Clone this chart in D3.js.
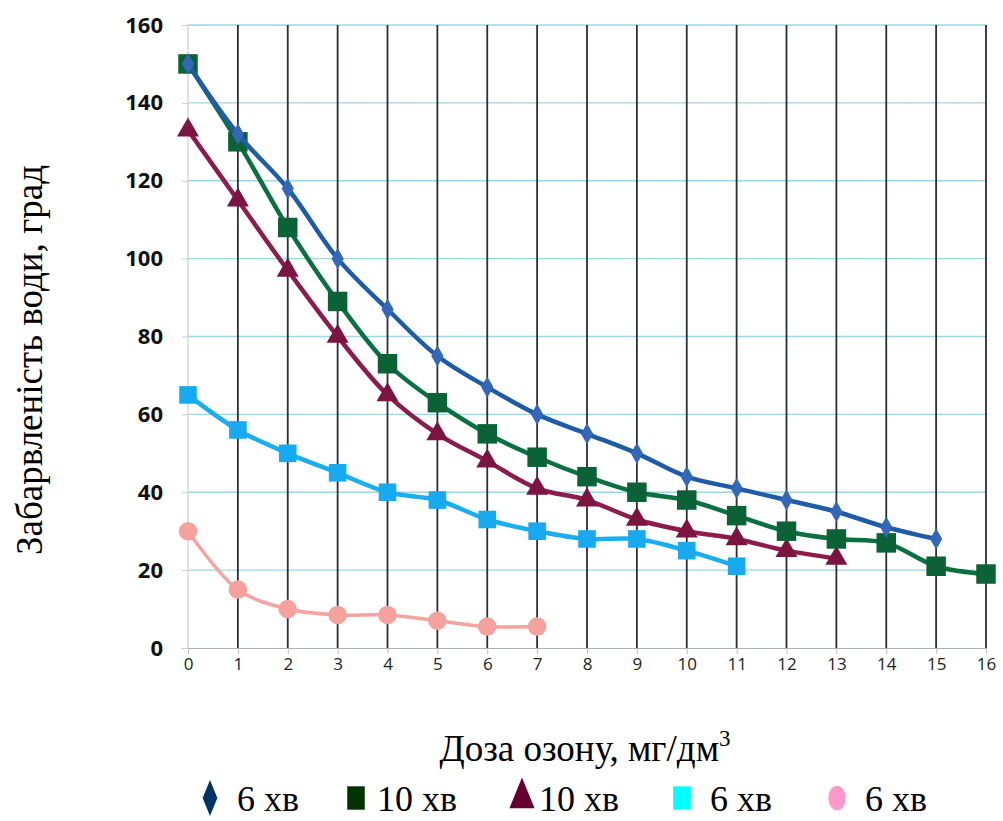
<!DOCTYPE html>
<meta charset="utf-8">
<script src="https://d3js.org/d3.v7.min.js"></script>
<style>
  body { margin: 0; background: #fff; }
</style>
<div id="chart"></div>
<script>

// data
const doses = [0, 1, 2, 3, 4, 5, 6, 7, 8, 9, 10, 11, 12, 13, 14, 15, 16];
const blue6 = [150, 132, 118, 100, 87, 75, 67, 60, 55, 50, 44, 41, 38, 35, 31, 28];
const green10 = [150, 130, 108, 89, 73, 63, 55, 49, 44, 40, 38, 34, 30, 28, 27, 21, 19];
const maroon10 = [133, 115, 97, 80, 65, 55, 48, 41, 38, 33, 30, 28, 25, 23];
const cyan6 = [65, 56, 50, 45, 40, 38, 33, 30, 28, 28, 25, 21];
const pink6 = [30, 15, 10, 8.5, 8.5, 7, 5.5, 5.5];
const yTicks = [0, 20, 40, 60, 80, 100, 120, 140, 160];
const legendLabels = ["6 хв", "10 хв", "10 хв", "6 хв", "6 хв"];

const width = 1003, height = 821;
const margin = { top: 25, right: 17, bottom: 173, left: 188 };

const svg = d3.select("#chart").append("svg")
    .attr("width", width)
    .attr("height", height);

const x = d3.scaleLinear().domain([0, 16]).range([margin.left, width - margin.right]);
const y = d3.scaleLinear().domain([0, 160]).range([height - margin.bottom, margin.top]);

// horizontal grid (light cyan)
svg.append("g")
    .selectAll("line")
    .data(yTicks.filter(d => d > 0))
    .join("line")
    .attr("x1", x(0)).attr("x2", x(16))
    .attr("y1", d => y(d)).attr("y2", d => y(d))
    .attr("stroke", "#9fd6e6")
    .attr("stroke-width", 1.3);

// vertical grid (dark)
svg.append("g")
    .selectAll("line")
    .data(doses.filter(d => d > 0))
    .join("line")
    .attr("x1", d => x(d)).attr("x2", d => x(d))
    .attr("y1", y(160)).attr("y2", y(0))
    .attr("stroke", "#2a2d3a")
    .attr("stroke-width", 1.8);

// y axis line
svg.append("line")
    .attr("x1", x(0)).attr("x2", x(0))
    .attr("y1", y(160)).attr("y2", y(0))
    .attr("stroke", "#c8cdd4").attr("stroke-width", 1.2);

// x axis
const xAxis = svg.append("g")
    .attr("transform", `translate(0, ${y(0)})`)
    .call(d3.axisBottom(x).tickValues(doses).tickSize(6).tickPadding(4).tickSizeOuter(0));
xAxis.select(".domain").attr("stroke", "#a9b0ba").attr("stroke-width", 1.2);
xAxis.selectAll(".tick line").attr("stroke", "#b5bcc6");
xAxis.selectAll("text")
    .attr("font-family", "Open Sans, Liberation Sans, sans-serif")
    .attr("font-size", 17)
    .attr("fill", "#222");

// y axis labels
const yAxis = svg.append("g")
    .attr("transform", `translate(${x(0)}, 0)`)
    .call(d3.axisLeft(y).tickValues(yTicks).tickSize(6).tickPadding(19));
yAxis.select(".domain").remove();
yAxis.selectAll(".tick line").attr("stroke", "#c8cdd4");
yAxis.selectAll("text")
    .attr("font-family", "Open Sans, Liberation Sans, sans-serif")
    .attr("font-weight", "bold")
    .attr("font-size", 22)
    .attr("fill", "#111");

const line = d3.line()
    .x(d => x(d[0]))
    .y(d => y(d[1]))
    .curve(d3.curveCatmullRom.alpha(0.5));

const series = [
    { values: blue6, line: "#1f5ca8", fill: "#3467b8", shape: d3.symbolDiamond, size: 130, legend: "#003366", sw: 4.5 },
    { values: green10, line: "#0a7040", fill: "#0b6236", shape: d3.symbolSquare, size: 380, legend: "#003300", sw: 4.5 },
    { values: maroon10, line: "#8c1c4c", fill: "#7c1442", shape: d3.symbolTriangle, size: 210, legend: "#660033", sw: 4.5 },
    { values: cyan6, line: "#1aaef0", fill: "#18aaf0", shape: d3.symbolSquare, size: 310, legend: "#00ffff", sw: 4.5 },
    { values: pink6, line: "#f4a3a0", fill: "#f5a19d", shape: d3.symbolCircle, size: 270, legend: "#ff99cc", sw: 3.5 }
];

// draw lines first, then markers (back to front)
series.slice().reverse().forEach(s => {
    const pts = s.values.map((v, i) => [doses[i], v]);
    svg.append("path")
        .datum(pts)
        .attr("fill", "none")
        .attr("stroke", s.line)
        .attr("stroke-width", s.sw)
        .attr("d", line);
    svg.append("g")
        .selectAll("path")
        .data(pts)
        .join("path")
        .attr("transform", d => `translate(${x(d[0])}, ${y(d[1])})`)
        .attr("d", d3.symbol().type(s.shape).size(s.size))
        .attr("fill", s.fill);
});

// axis titles
svg.append("text")
    .attr("x", 585).attr("y", 761)
    .attr("text-anchor", "middle")
    .attr("font-family", "Liberation Serif, Times New Roman, serif")
    .attr("font-size", 37)
    .attr("fill", "#000")
    .text("Доза озону, мг/дм")
    .append("tspan")
    .attr("dy", -15)
    .attr("font-size", 23)
    .text("3");

svg.append("text")
    .attr("transform", `translate(42, 360) rotate(-90)`)
    .attr("text-anchor", "middle")
    .attr("font-family", "Liberation Serif, Times New Roman, serif")
    .attr("font-size", 37)
    .attr("fill", "#000")
    .text("Забарвленість води, град");

// legend
const legendX = [210, 356, 522, 682, 837];
const legendTextX = [237, 377, 539, 710, 865];
const legend = svg.append("g");
series.forEach((s, i) => {
    const sym = legend.append("path")
        .attr("d", d3.symbol().type(s.shape).size(s.shape === d3.symbolDiamond ? 260 : s.shape === d3.symbolCircle ? 330 : 380))
        .attr("fill", s.legend);
    // legend markers are drawn a little taller than wide
    sym.attr("transform", `translate(${legendX[i]}, 798) scale(${s.shape === d3.symbolSquare ? 0.9 : 0.85}, 1.2)`);
    legend.append("text")
        .attr("x", legendTextX[i]).attr("y", 811)
        .attr("font-family", "Liberation Serif, Times New Roman, serif")
        .attr("font-size", 36)
        .attr("fill", "#000")
        .text(legendLabels[i]);
});

</script>
